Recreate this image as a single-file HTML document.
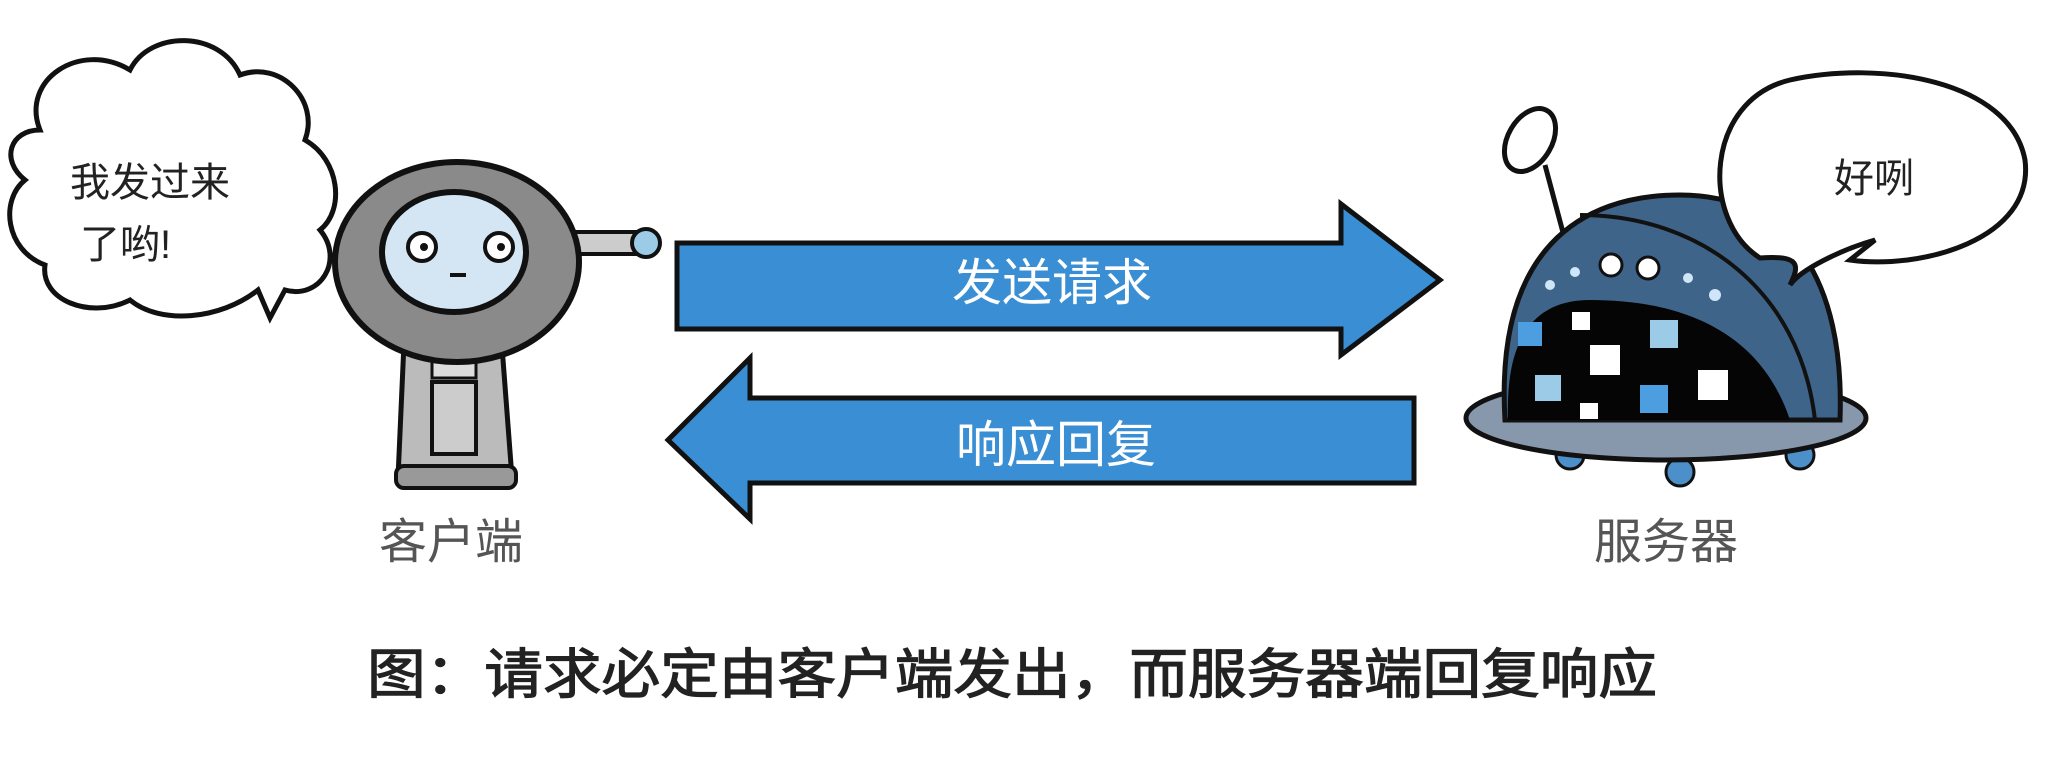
<!DOCTYPE html>
<html><head><meta charset="utf-8"><style>
html,body{margin:0;padding:0;background:#fff;width:2062px;height:764px;overflow:hidden}
svg{display:block}
text{font-family:"Liberation Sans","Noto Sans CJK SC",sans-serif}
</style></head><body>
<svg width="2062" height="764" viewBox="0 0 2062 764" xmlns="http://www.w3.org/2000/svg">
<path d="M40,130 C20,80 80,40 130,70 C150,30 220,30 240,75 C280,60 320,100 305,140 C340,160 345,210 320,230 C345,260 320,300 285,290 L270,318 L258,290 C220,320 160,325 130,300 C90,320 40,300 45,265 C5,250 0,200 25,180 C0,160 10,130 40,130 Z" fill="#fff" stroke="#111" stroke-width="5"/>
<text x="70" y="196" font-size="40" fill="#222">我发过来</text>
<text x="80" y="258" font-size="40" fill="#222">了哟!</text>
<path d="M405,320 L500,320 L512,478 L398,478 Z" fill="#bbb" stroke="#111" stroke-width="5"/>
<rect x="432" y="330" width="44" height="48" fill="#ddd" stroke="#111" stroke-width="3"/>
<rect x="432" y="382" width="44" height="72" fill="#ccc" stroke="#111" stroke-width="4"/>
<rect x="396" y="466" width="120" height="22" rx="8" fill="#999" stroke="#111" stroke-width="4"/>
<rect x="565" y="232" width="70" height="22" fill="#ccc" stroke="#111" stroke-width="4"/>
<circle cx="646" cy="243" r="14" fill="#9ccbe8" stroke="#111" stroke-width="4"/>
<ellipse cx="457" cy="262" rx="122" ry="100" fill="#8a8a8a" stroke="#111" stroke-width="6"/>
<ellipse cx="454" cy="252" rx="72" ry="60" fill="#d4e6f4" stroke="#111" stroke-width="6"/>
<circle cx="422" cy="247" r="14" fill="#fff" stroke="#111" stroke-width="4"/>
<circle cx="499" cy="247" r="14" fill="#fff" stroke="#111" stroke-width="4"/>
<circle cx="424" cy="247" r="4" fill="#111"/><circle cx="501" cy="247" r="4" fill="#111"/>
<line x1="450" y1="275" x2="466" y2="275" stroke="#111" stroke-width="4"/>
<path d="M677,243 L1341,243 L1341,204 L1440,280 L1341,355 L1341,329 L677,329 Z" fill="#3a8fd4" stroke="#111" stroke-width="5"/>
<text x="1052" y="300" font-size="50" fill="#fff" text-anchor="middle">发送请求</text>
<path d="M1414,398 L750,398 L750,358 L668,440 L750,519 L750,483 L1414,483 Z" fill="#3a8fd4" stroke="#111" stroke-width="5"/>
<text x="1056" y="462" font-size="50" fill="#fff" text-anchor="middle">响应回复</text>
<text x="451" y="558" font-size="48" fill="#555" text-anchor="middle">客户端</text>
<text x="1666" y="558" font-size="48" fill="#555" text-anchor="middle">服务器</text>
<line x1="1545" y1="165" x2="1565" y2="240" stroke="#111" stroke-width="5"/>
<ellipse cx="1530" cy="140" rx="22" ry="34" transform="rotate(30 1530 140)" fill="#fff" stroke="#111" stroke-width="5"/>
<ellipse cx="1570" cy="455" rx="14" ry="14" fill="#4d8fc9" stroke="#111" stroke-width="3"/>
<ellipse cx="1680" cy="472" rx="14" ry="14" fill="#4d8fc9" stroke="#111" stroke-width="3"/>
<ellipse cx="1800" cy="455" rx="14" ry="14" fill="#4d8fc9" stroke="#111" stroke-width="3"/>
<ellipse cx="1666" cy="418" rx="200" ry="42" fill="#8898ac" stroke="#111" stroke-width="5"/>
<path d="M1505,420 C1495,250 1580,195 1680,195 C1790,195 1845,280 1840,420 Z" fill="#3f6489" stroke="#111" stroke-width="5"/>
<path d="M1508,420 C1505,330 1540,300 1590,300 C1680,300 1760,330 1790,420 Z" fill="#050505"/>
<path d="M1580,215 C1700,215 1800,290 1815,420" fill="none" stroke="#111" stroke-width="4"/>
<rect x="1518" y="322" width="24" height="24" fill="#4d9ee0"/>
<rect x="1572" y="312" width="18" height="18" fill="#fff"/>
<rect x="1590" y="345" width="30" height="30" fill="#fff"/>
<rect x="1650" y="320" width="28" height="28" fill="#9ccbe8"/>
<rect x="1535" y="375" width="26" height="26" fill="#9ccbe8"/>
<rect x="1640" y="385" width="28" height="28" fill="#4d9ee0"/>
<rect x="1698" y="370" width="30" height="30" fill="#fff"/>
<rect x="1580" y="403" width="18" height="16" fill="#fff"/>
<circle cx="1611" cy="265" r="11" fill="#fff" stroke="#111" stroke-width="3"/>
<circle cx="1648" cy="268" r="11" fill="#fff" stroke="#111" stroke-width="3"/>
<circle cx="1550" cy="285" r="5" fill="#cfe6f8"/><circle cx="1575" cy="272" r="5" fill="#cfe6f8"/>
<circle cx="1688" cy="278" r="5" fill="#cfe6f8"/><circle cx="1715" cy="295" r="6" fill="#cfe6f8"/>
<path d="M1760,258 C1700,220 1705,100 1790,80 C1880,60 2010,80 2025,160 C2035,240 1920,270 1850,260 L1875,240 C1840,250 1800,270 1790,285 C1800,265 1800,255 1760,258 Z" fill="#fff" stroke="#111" stroke-width="5"/>
<text x="1874" y="192" font-size="40" fill="#222" text-anchor="middle">好咧</text>
<text x="1012" y="693" font-size="54" fill="#222" stroke="#222" stroke-width="1.2" text-anchor="middle" textLength="1290" lengthAdjust="spacingAndGlyphs">图：请求必定由客户端发出，而服务器端回复响应</text>
</svg>
</body></html>
